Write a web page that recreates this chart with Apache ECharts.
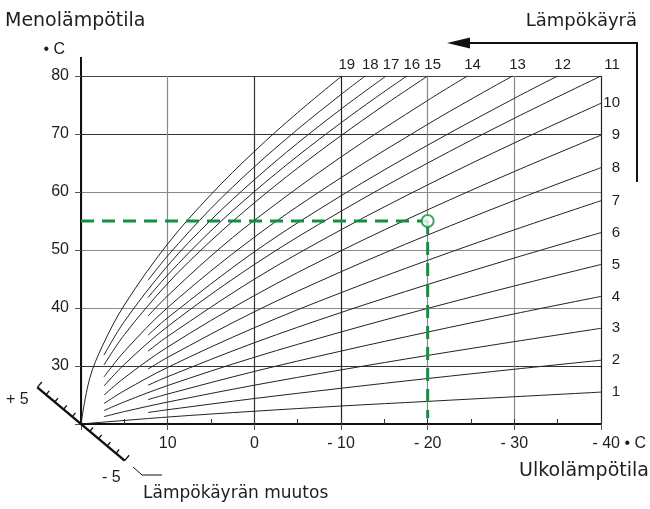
<!DOCTYPE html>
<html><head><meta charset="utf-8">
<script src="https://cdn.jsdelivr.net/npm/echarts@6/dist/echarts.min.js"></script>
<style>html,body{margin:0;padding:0;background:#fff}#c{width:650px;height:509px}</style>
</head><body><div id="c"></div>
<script>
// ---- data ----
const curveNames = ['1','2','3','4','5','6','7','8','9','10','11','12','13','14','15','16','17','18','19'];
const curve01 = [[20,20],[10,21.2],[0,22.2],[-10,23.1],[-20,23.9],[-30,24.7],[-40,25.5]];
const curve02 = [[12.27,21.98],[10,22.46],[0,24.39],[-10,26.16],[-20,27.84],[-30,29.44],[-40,31]];
const curve03 = [[17.35,21.27],[15,22.14],[10,23.78],[0,26.69],[-10,29.33],[-20,31.82],[-30,34.2],[-40,36.5]];
const curve04 = [[12.27,24.2],[10,25.17],[0,29.06],[-10,32.57],[-20,35.85],[-30,38.99],[-40,42]];
const curve05 = [[17.35,22.31],[15,23.82],[10,26.63],[0,31.5],[-10,35.86],[-20,39.93],[-30,43.8],[-40,47.5]];
const curve06 = [[12.27,26.68],[10,28.16],[0,34.01],[-10,39.22],[-20,44.05],[-30,48.62],[-40,53]];
const curve07 = [[17.35,23.53],[15,25.74],[10,29.76],[0,36.6],[-10,42.64],[-20,48.22],[-30,53.48],[-40,58.5]];
const curve08 = [[12.27,29.46],[10,31.49],[0,39.35],[-10,46.25],[-20,52.58],[-30,58.54],[-40,64.2]];
const curve09 = [[17.35,24.98],[15,27.96],[10,33.27],[0,42.14],[-10,49.86],[-20,56.92],[-30,63.53],[-40,69.8]];
const curve10 = [[12.27,32.54],[10,35.11],[0,44.96],[-10,53.48],[-20,61.23],[-30,68.46],[-40,75.3]];
const curve11 = [[17.35,26.55],[15,30.28],[10,36.81],[0,47.5],[-10,56.68],[-20,64.99],[-30,72.71],[-40,80]];
const curve12 = [[12.27,35.31],[10,38.32],[0,49.68],[-10,59.35],[-20,68.07],[-30,76.15],[-35,80]];
const curve13 = [[17.35,28.11],[15,32.51],[10,40.08],[0,52.21],[-10,62.47],[-20,71.67],[-25,75.99],[-29.8,80]];
const curve14 = [[12.27,38.61],[10,42.1],[5,48.97],[0,55.12],[-10,66.04],[-20,75.79],[-24.6,80]];
const curve15 = [[17.35,30.17],[15,35.4],[10,44.23],[5,51.6],[0,58.13],[-5,64.13],[-10,69.71],[-15,74.98],[-20,80]];
const curve16 = [[12.27,41.8],[10,45.7],[5,53.32],[0,60.06],[-5,66.21],[-10,71.93],[-14,76.26],[-17.6,80]];
const curve17 = [[17.35,31.88],[15,37.68],[10,47.3],[5,55.18],[0,62.11],[-5,68.43],[-10,74.29],[-15.2,80]];
const curve18 = [[12.27,44.77],[10,49],[5,57.17],[0,64.33],[-5,70.81],[-10,76.81],[-12.8,80]];
const curve19 = [[20,20],[19,27.84],[17.5,33.55],[15,40.51],[10,51.05],[5,59.57],[0,66.99],[-5,73.69],[-10.1,80]];
const curves = [curve01,curve02,curve03,curve04,curve05,curve06,curve07,curve08,curve09,curve10,
                curve11,curve12,curve13,curve14,curve15,curve16,curve17,curve18,curve19];

const examplePoint = [-20, 55];            // outdoor -20 °C -> flow 55 °C
const xRange = [-40, 20];
const yRange = [20, 80];
const shiftTicks = [-5,-4,-3,-2,-1,1,2,3,4,5];  // "Lämpökäyrän muutos" scale
const shiftEndLabels = ['+ 5', '- 5'];

const titleY = 'Menolämpötila';
const unitY = '• C';
const titleCurve = 'Lämpökäyrä';
const titleX = 'Ulkolämpötila';
const titleShift = 'Lämpökäyrän muutos';
const lastXLabel = '- 40 • C';

// ---- styling ----
const WORD_FONT = '"DejaVu Sans", sans-serif';
const NUM_FONT = '"Liberation Sans", Arial, sans-serif';
const INK = '#1e1e1e';
const GREEN = '#12903f';

const fmtX = v => (v === 20 || v === -40) ? '' : (v < 0 ? '- ' + Math.abs(v) : String(v));
const fmtY = v => v === 20 ? '' : String(v);

const chart = echarts.init(document.getElementById('c'), null, {renderer: 'canvas'});

const series = curves.map((d, i) => ({
  name: curveNames[i], type: 'line', data: d, smooth: 0.35, symbol: 'none', silent: true,
  lineStyle: {color: '#222', width: 1}, z: 3, xAxisIndex: 0, yAxisIndex: 0
}));
series.push({
  type: 'line', data: [[xRange[1], examplePoint[1]], examplePoint], symbol: 'none', z: 5,
  lineStyle: {color: GREEN, width: 3, type: [13, 8], cap: 'butt'}
});
series.push({
  type: 'line', data: [examplePoint, [examplePoint[0], 21]], symbol: 'none', z: 5,
  lineStyle: {color: GREEN, width: 3, type: [13, 8], cap: 'butt'}
});
series.push({
  type: 'scatter', data: [examplePoint], symbol: 'circle', symbolSize: 12, z: 6,
  itemStyle: {color: '#fff', borderColor: GREEN, borderWidth: 2}
});

const option = {
  animation: false,
  backgroundColor: '#fff',
  grid: {left: 81, right: 49, top: 76, bottom: 85},
  xAxis: [{
    type: 'value', min: xRange[0], max: xRange[1], interval: 10, inverse: true,
    axisLine: {show: true, onZero: false, lineStyle: {color: '#111', width: 2}},
    axisTick: {show: true, length: 6, lineStyle: {color: '#555', width: 1}},
    axisLabel: {formatter: fmtX, margin: 12, fontFamily: NUM_FONT, fontSize: 16, color: INK},
    splitLine: {show: true, lineStyle: {width: 1.2,
      color: ['#222', '#8a8a8a', '#8a8a8a', '#222', '#333', '#8a8a8a', '#222']}}
  }, {
    type: 'value', min: xRange[0], max: xRange[1], interval: 5, inverse: true, position: 'bottom', offset: 0,
    axisLine: {show: false}, axisLabel: {show: false}, splitLine: {show: false},
    axisTick: {show: true, inside: true, length: 5, lineStyle: {color: '#333', width: 1}}
  }],
  yAxis: {
    type: 'value', min: yRange[0], max: yRange[1], interval: 10,
    axisLine: {show: true, onZero: false, lineStyle: {color: '#111', width: 2}},
    axisTick: {show: true, length: 6, lineStyle: {color: '#555', width: 1}},
    axisLabel: {formatter: fmtY, margin: 12, fontFamily: NUM_FONT, fontSize: 16, color: INK},
    splitLine: {show: true, lineStyle: {width: 1.2,
      color: ['#222', '#333', '#8a8a8a', '#8a8a8a', '#8a8a8a', '#333', '#444']}}
  },
  series: series
};
chart.setOption(option);

// ---- decorations positioned through the chart's own scales ----
const P = (x, y) => chart.convertToPixel({gridIndex: 0}, [x, y]);
const o = P(xRange[1], yRange[0]);       // origin (20,20)
const tr = P(xRange[0], yRange[1]);      // top right (-40,80)
const g = [];
const txt = (text, x, y, font, align, vAlign, fill) => g.push({
  type: 'text', z: 20, silent: true,
  style: {text, x, y, font, fill: fill || INK, align, verticalAlign: vAlign}
});

// curve number labels
curves.forEach((d, i) => {
  const e = d[d.length - 1];
  const p = P(e[0], e[1]);
  const n = curveNames[i];
  if (e[0] <= xRange[0] + 1e-6 && e[1] < yRange[1] - 1e-6) {
    txt(n, p[0] + 19, p[1], '15px ' + NUM_FONT, 'right', 'middle');
  } else if (e[0] <= xRange[0] + 1e-6) {
    txt(n, p[0] + 11, p[1] - 11, '15px ' + NUM_FONT, 'center', 'middle');
  } else {
    txt(n, p[0] + 5, p[1] - 11, '15px ' + NUM_FONT, 'center', 'middle');
  }
});

// y axis extension above 80 and unit
g.push({type: 'line', z: 10, silent: true, shape: {x1: o[0], y1: tr[1], x2: o[0], y2: tr[1] - 19},
        style: {stroke: '#111', lineWidth: 2}});
txt(titleY, 5, 21, '19px ' + WORD_FONT, 'left', 'middle');
txt(unitY, o[0] - 16, 50, '16px ' + NUM_FONT, 'right', 'middle');

// curve arrow (top right)
const ax = tr[0] + 36;
g.push({type: 'polyline', z: 10, silent: true,
        shape: {points: [[ax, tr[1] + 106], [ax, 43], [466, 43]]},
        style: {stroke: '#111', lineWidth: 2, fill: null}});
g.push({type: 'polygon', z: 10, silent: true,
        shape: {points: [[447, 43], [470, 37.5], [470, 48.5]]}, style: {fill: '#111'}});
txt(titleCurve, ax, 21, '18px ' + WORD_FONT, 'right', 'middle');

// x axis end label and titles
txt(lastXLabel, 646, o[1] + 20, '16px ' + NUM_FONT, 'right', 'middle');
txt(titleX, 519, 471, '19px ' + WORD_FONT, 'left', 'middle');
txt(titleShift, 143, 494, '17px ' + WORD_FONT, 'left', 'middle');

// skewed shift scale through the origin
const dir = [0.766, 0.643];            // down-right direction
const half = 57;
const step = half / 5;
g.push({type: 'line', z: 10, silent: true,
        shape: {x1: o[0] - dir[0] * half, y1: o[1] - dir[1] * half, x2: o[0] + dir[0] * half, y2: o[1] + dir[1] * half},
        style: {stroke: '#111', lineWidth: 2.5}});
const perp = [dir[1], -dir[0]];        // toward upper right
shiftTicks.forEach(k => {
  const t = -k * step;                 // + values go up-left
  const bx = o[0] + dir[0] * t, by = o[1] + dir[1] * t;
  const len = Math.abs(k) === 5 ? 7 : 5;
  g.push({type: 'line', z: 10, silent: true,
          shape: {x1: bx, y1: by, x2: bx + perp[0] * len, y2: by + perp[1] * len},
          style: {stroke: '#111', lineWidth: 1.3}});
});
txt(shiftEndLabels[0], 6, 400, '16px ' + NUM_FONT, 'left', 'middle');
txt(shiftEndLabels[1], 102, 478, '16px ' + NUM_FONT, 'left', 'middle');
g.push({type: 'polyline', z: 10, silent: true,
        shape: {points: [[133, 467], [142, 475], [162, 475]]},
        style: {stroke: '#111', lineWidth: 1, fill: null}});

chart.setOption({graphic: {elements: g}});
</script></body></html>
